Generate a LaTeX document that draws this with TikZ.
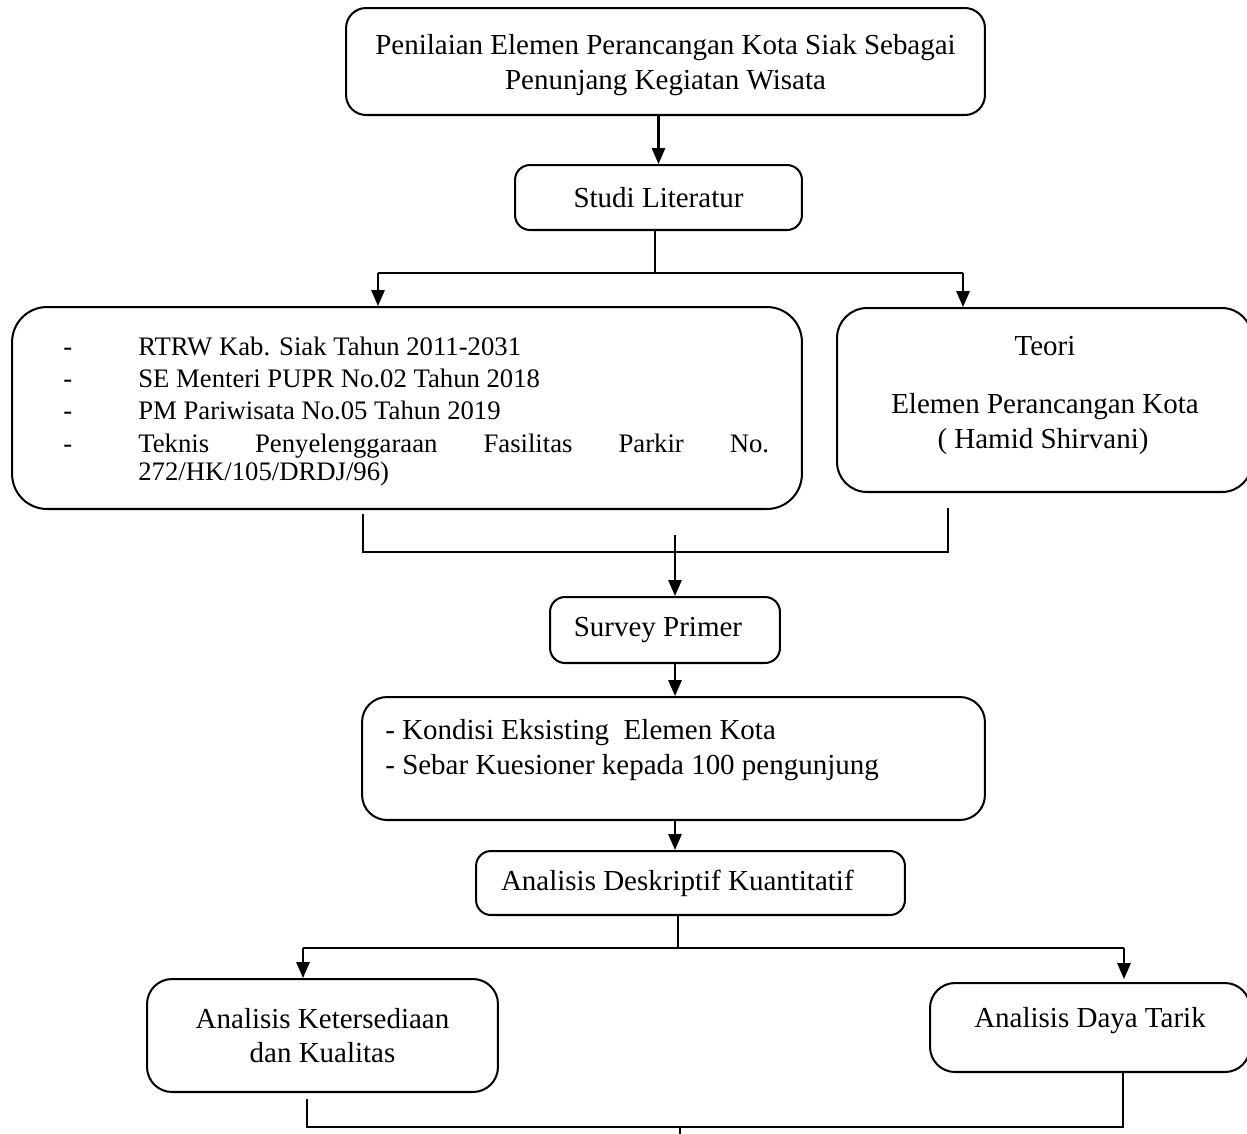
\documentclass[tikz,border=0pt]{standalone}
\usepackage{fontspec}
\setmainfont{Liberation Serif}
\usetikzlibrary{arrows.meta}
\begin{document}
\begin{tikzpicture}[x=0.02cm,y=-0.02cm,
  box/.style={draw, line width=1.15pt, rounded corners=#1, inner sep=0pt, align=center, font=\fontsize{16.5}{19.5}\selectfont},
  box/.default=0.3cm,
  txt/.style={inner sep=0pt, align=center, font=\fontsize{16.5}{19.5}\selectfont},
  stxt/.style={inner sep=0pt, font=\fontsize{15.2}{18}\selectfont},
  ln/.style={line width=1.15pt},
  arr/.style={line width=1.15pt, -{Triangle[width=7.5pt,length=9pt]}}]
\useasboundingbox (0,0) rectangle (1247,1133);

% boxes
\node[box=0.4cm, minimum width=12.78cm, minimum height=2.14cm] (b1) at (665.5,61.5) {};
\node[txt] (b1t) at (665.5,65) {Penilaian Elemen Perancangan Kota Siak Sebagai\\Penunjang Kegiatan Wisata};
\node[box, minimum width=5.74cm, minimum height=1.3cm] (b2) at (658.5,197.5) {Studi Literatur};
\node[box=0.7cm, minimum width=15.8cm, minimum height=4.04cm] (lb) at (407,408) {};
\node[box=0.6cm, minimum width=8.3cm, minimum height=3.68cm] (rb) at (1044.5,400) {};
\node[box, minimum width=4.6cm, minimum height=1.32cm] (sp) at (665,630) {Survey Primer\hspace*{8pt}};
\node[box=0.5cm, minimum width=12.46cm, minimum height=2.46cm] (kb) at (673.5,758.5) {};
\node[box, minimum width=8.58cm, minimum height=1.28cm] (ad) at (690.5,883) {Analisis Deskriptif Kuantitatif\hspace*{15pt}};
\node[box=0.5cm, minimum width=7.02cm, minimum height=2.26cm] (ak) at (322.5,1035.5) {Analisis Ketersediaan\\dan Kualitas};
\node[box=0.5cm, minimum width=6.4cm, minimum height=1.78cm] (dt) at (1090,1027.5) {};
\node[txt, anchor=base] (dtt) at (1090,1027) {Analisis Daya Tarik};

% left box text
\node[stxt, anchor=base west] (d1) at (63,355) {-};
\node[stxt, anchor=base west] (t1) at (138,355) {RTRW Kab. Siak Tahun 2011-2031};
\node[stxt, anchor=base west] (d2) at (63,387) {-};
\node[stxt, anchor=base west] (t2) at (138,387) {SE Menteri PUPR No.02 Tahun 2018};
\node[stxt, anchor=base west] (d3) at (63,419) {-};
\node[stxt, anchor=base west] (t3) at (138,419) {PM Pariwisata No.05 Tahun 2019};
\node[stxt, anchor=base west] (d4) at (63,452) {-};
\node[stxt, anchor=base west] (t4) at (138,452) {\makebox[359pt][s]{Teknis Penyelenggaraan Fasilitas Parkir No.}};
\node[stxt, anchor=base west] (t5) at (138,480) {272/HK/105/DRDJ/96)};

% right box text
\node[txt, anchor=base] (r1) at (1045,355) {Teori};
\node[txt, anchor=base] (r2) at (1045,413) {Elemen Perancangan Kota};
\node[txt, anchor=base] (r3) at (1043,448) {( Hamid Shirvani)};

% kondisi text
\node[txt, anchor=base west] (k1) at (385,739) {- Kondisi Eksisting\ \ Elemen Kota};
\node[txt, anchor=base west] (k2) at (385,774) {- Sebar Kuesioner kepada 100 pengunjung};

% connectors
\draw[arr] (b2.north |- b1.south) -- (b2.north);
\coordinate (s1) at (655,273);
\coordinate (s1l) at (378,273);
\coordinate (s1r) at (963,273);
\draw[ln] (b2.south -| s1) -- (s1);
\draw[ln] (s1l) -- (s1r);
\draw[arr] (s1l) -- (s1l |- lb.north);
\draw[arr] (s1r) -- (s1r |- rb.north);

\coordinate (m1l) at (363,552);
\coordinate (m1r) at (948,552);
\draw[ln] (m1l |- lb.south) ++(0,4) -- (m1l) -- (m1r) -- ++(0,-44);
\coordinate (m1a) at (675,535);
\draw[arr] (m1a) -- (m1a |- sp.north);
\draw[arr] (sp.south -| m1a) -- (kb.north -| m1a);
\draw[arr] (kb.south -| m1a) -- (ad.north -| m1a);

\coordinate (s2) at (678,948);
\coordinate (s2l) at (303,948);
\coordinate (s2r) at (1124,948);
\draw[ln] (ad.south -| s2) -- (s2);
\draw[ln] (s2l) -- (s2r);
\draw[arr] (s2l) -- (s2l |- ak.north);
\draw[arr] (s2r) -- ++(0,31);

\coordinate (m2l) at (307,1127);
\coordinate (m2r) at (1123,1127);
\coordinate (m2a) at (680,1127);
\draw[ln] (m2l |- ak.south) ++(0,6) -- (m2l) -- (m2r) -- (m2r |- dt.south);
\draw[ln] (m2a) -- ++(0,8);
\end{tikzpicture}
\end{document}
